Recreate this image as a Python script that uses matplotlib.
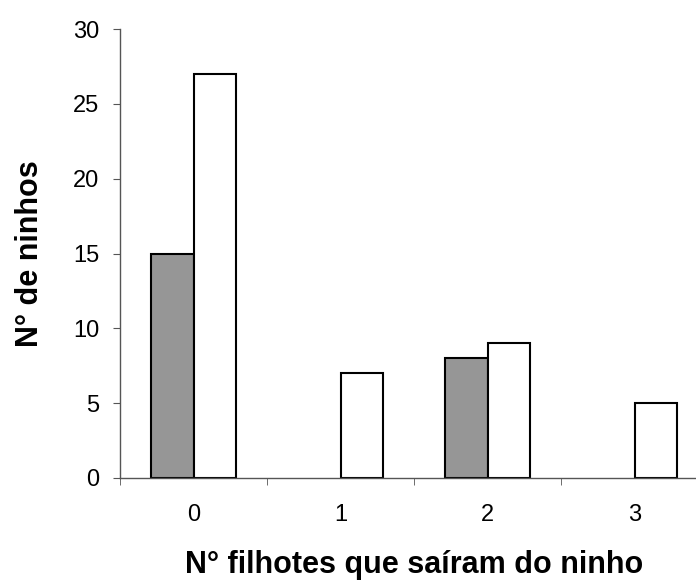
import numpy as np
import matplotlib.pyplot as plt

plt.rcParams['font.family'] = ['Liberation Sans', 'DejaVu Sans']

categorias = ['0', '1', '2', '3']
serie_cinza = [15, 0, 8, 0]
serie_branca = [27, 7, 9, 5]

fig = plt.figure(figsize=(6.96, 5.84), dpi=100)
ax = fig.add_axes([120 / 696, 106 / 584, 588 / 696, 449 / 584])

x = np.arange(len(categorias))
w = 0.29
cinza = np.array(serie_cinza)
branca = np.array(serie_branca)
# barras de altura zero não são desenhadas (senão aparece uma linha preta no eixo)
m1 = cinza > 0
m2 = branca > 0
ax.bar(x[m1] - w / 2, cinza[m1], w, color='#969696', edgecolor='black', linewidth=1.5)
ax.bar(x[m2] + w / 2, branca[m2], w, color='white', edgecolor='black', linewidth=1.5)

ax.set_xlim(-0.5, 3.5)
ax.set_ylim(0, 30)
ax.set_yticks(range(0, 31, 5))
ax.set_xticks(x)
ax.set_xticklabels(categorias)
ax.set_xticks(np.arange(-0.5, 3.6, 1), minor=True)
ax.tick_params(axis='x', which='major', length=0, pad=19, labelsize=17)
ax.tick_params(axis='x', which='minor', length=5, direction='out', color='#555555')
ax.tick_params(axis='y', length=5, direction='out', labelsize=17, color='#555555', pad=10)

for s in ['top', 'right']:
    ax.spines[s].set_visible(False)
for s in ['left', 'bottom']:
    ax.spines[s].set_color('#555555')
    ax.spines[s].set_linewidth(1)

ax.set_xlabel('N° filhotes que saíram do ninho', fontsize=22, fontweight='bold', labelpad=17)
ax.set_ylabel('N° de ninhos', fontsize=22, fontweight='bold', labelpad=20)

fig.savefig('out.png', dpi=100)
